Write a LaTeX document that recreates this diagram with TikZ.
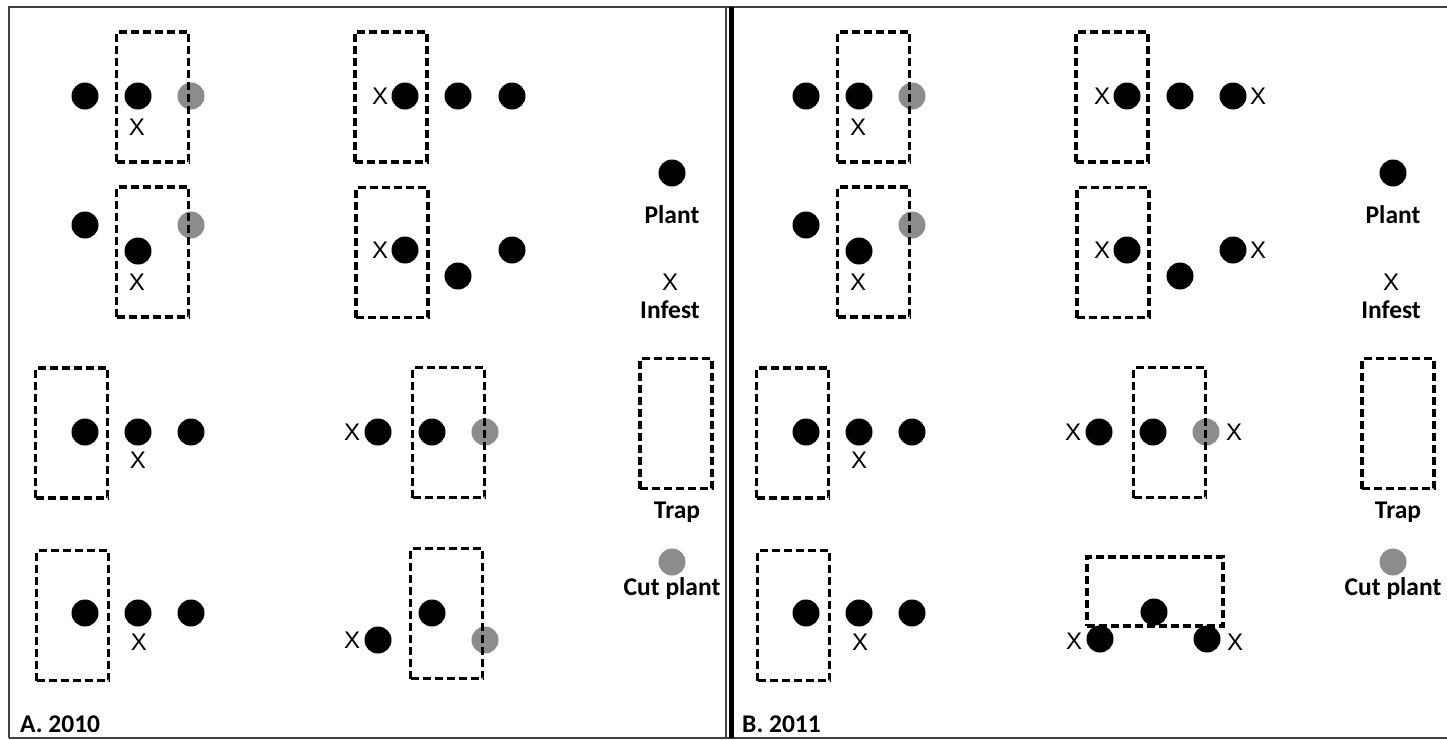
\documentclass[tikz,border=0pt]{standalone}
\usepackage{fontspec}
\setmainfont{Carlito}
\newfontfamily\xfont{Liberation Sans}
\definecolor{cutgray}{RGB}{140,140,140}
\definecolor{framegray}{RGB}{64,64,64}
\begin{document}
\begin{tikzpicture}[x=1pt,y=-1pt,
  plant/.style={circle,fill=black,minimum size=27pt,inner sep=0pt},
  cutplant/.style={circle,fill=cutgray,minimum size=27pt,inner sep=0pt},
  trapbox/.style={draw=black,line width=3.3pt,dash pattern=on 8pt off 4pt,
    minimum width=72pt,minimum height=130pt,inner sep=0pt},
  trapwide/.style={trapbox,minimum width=136pt,minimum height=69pt},
  infest/.style={inner sep=0pt,font=\xfont\fontsize{24}{26}\selectfont},
  lab/.style={inner sep=0pt,anchor=base,font=\fontsize{25.5}{26}\selectfont\bfseries},
  panel/.style={inner sep=0pt,anchor=base west,font=\fontsize{25.5}{26}\selectfont\bfseries}]
\useasboundingbox (0,0) rectangle (1447,739);

% frame
\draw[framegray,line width=2pt] (9,737.5) -- (9,6.5) -- (1447,6.5);
\draw[framegray,line width=2pt] (9,737.5) -- (1447,737.5);
\draw[framegray,line width=1.5pt] (726,6.5) -- (726,737.5);
\draw[black,line width=5pt] (731.5,6.5) -- (731.5,737.5);

% ===== A. 2010 =====
% block 1
\node[plant] (a11) at (85,96) {};
\node[plant] (a12) at (138,96) {};
\node[cutplant] (a13) at (191,96) {};
\node[infest] (ax1) at (137,127) {X};
% block 2
\node[plant] (a21) at (85,225) {};
\node[cutplant] (a22) at (191,225) {};
\node[plant] (a23) at (138,251) {};
\node[infest] (ax2) at (137,282) {X};
% block 3
\node[infest] (ax3) at (380,96) {X};
\node[plant] (a31) at (405,96) {};
\node[plant] (a32) at (458,96) {};
\node[plant] (a33) at (512,96) {};
% block 4
\node[infest] (ax4) at (380,250) {X};
\node[plant] (a41) at (405,250) {};
\node[plant] (a42) at (458,276) {};
\node[plant] (a43) at (512,250) {};
% block 5
\node[plant] (a51) at (85,432) {};
\node[plant] (a52) at (138,432) {};
\node[plant] (a53) at (191,432) {};
\node[infest] (ax5) at (138,460) {X};
% block 6
\node[plant] (a61) at (85,613) {};
\node[plant] (a62) at (138,613) {};
\node[plant] (a63) at (191,613) {};
\node[infest] (ax6) at (139,642) {X};
% block 7
\node[infest] (ax7) at (352,432) {X};
\node[plant] (a71) at (378,432) {};
\node[plant] (a72) at (432,432) {};
\node[cutplant] (a73) at (485,432) {};
% block 8
\node[plant] (a81) at (432,613) {};
\node[infest] (ax8) at (352,640) {X};
\node[plant] (a82) at (378,640) {};
\node[cutplant] (a83) at (485,640) {};
% traps
\node[trapbox] (at1) at (152.5,97) {};
\node[trapbox] (at2) at (152.5,252) {};
\node[trapbox] (at3) at (391,97) {};
\node[trapbox] (at4) at (392,252.5) {};
\node[trapbox] (at5) at (71.5,433) {};
\node[trapbox] (at6) at (72.5,615.5) {};
\node[trapbox] (at7) at (448.5,432.5) {};
\node[trapbox] (at8) at (446.5,613.5) {};
% legend
\node[plant] (alp) at (672,173) {};
\node[lab] (alpt) at (672,223) {Plant};
\node[infest] (alx) at (670,282.5) {X};
\node[lab] (alxt) at (670,318) {Infest};
\node[trapbox] (alt) at (676,423.5) {};
\node[lab] (altt) at (677,518) {Trap};
\node[cutplant] (alc) at (672,562) {};
\node[lab] (alct) at (672,595) {Cut plant};
\node[panel] (atitle) at (20,732) {A. 2010};

% ===== B. 2011 =====
% block 1
\node[plant] (b11) at (806,96) {};
\node[plant] (b12) at (859,96) {};
\node[cutplant] (b13) at (912,96) {};
\node[infest] (bx1) at (858,127) {X};
% block 2
\node[plant] (b21) at (806,225) {};
\node[cutplant] (b22) at (912,225) {};
\node[plant] (b23) at (859,251) {};
\node[infest] (bx2) at (858,282) {X};
% block 3
\node[infest] (bx3) at (1102,96) {X};
\node[plant] (b31) at (1127,96) {};
\node[plant] (b32) at (1180,96) {};
\node[plant] (b33) at (1233,96) {};
\node[infest] (bx3b) at (1258,96) {X};
% block 4
\node[infest] (bx4) at (1102,250) {X};
\node[plant] (b41) at (1127,250) {};
\node[plant] (b42) at (1180,276) {};
\node[plant] (b43) at (1233,250) {};
\node[infest] (bx4b) at (1258,250) {X};
% block 5
\node[plant] (b51) at (806,432) {};
\node[plant] (b52) at (859,432) {};
\node[plant] (b53) at (912,432) {};
\node[infest] (bx5) at (859,460) {X};
% block 6
\node[plant] (b61) at (806,613) {};
\node[plant] (b62) at (859,613) {};
\node[plant] (b63) at (912,613) {};
\node[infest] (bx6) at (860,642) {X};
% block 7
\node[infest] (bx7) at (1073,432) {X};
\node[plant] (b71) at (1099,432) {};
\node[plant] (b72) at (1153,432) {};
\node[cutplant] (b73) at (1206,432) {};
\node[infest] (bx7b) at (1234,432) {X};
% block 8
\node[plant] (b81) at (1154,612) {};
\node[plant] (b82) at (1100,639) {};
\node[plant] (b83) at (1207,639) {};
\node[infest] (bx8) at (1074,641) {X};
\node[infest] (bx8b) at (1235,642) {X};
% traps
\node[trapbox] (bt1) at (873.5,97) {};
\node[trapbox] (bt2) at (873.5,252) {};
\node[trapbox] (bt3) at (1112,97) {};
\node[trapbox] (bt4) at (1113,252.5) {};
\node[trapbox] (bt5) at (792.5,433) {};
\node[trapbox] (bt6) at (793.5,615.5) {};
\node[trapbox] (bt7) at (1169.5,432.5) {};
\node[trapwide] (bt8) at (1155,591.5) {};
% legend
\node[plant] (blp) at (1393,173) {};
\node[lab] (blpt) at (1393,223) {Plant};
\node[infest] (blx) at (1391,282.5) {X};
\node[lab] (blxt) at (1391,318) {Infest};
\node[trapbox] (blt) at (1398,423.5) {};
\node[lab] (bltt) at (1398,518) {Trap};
\node[cutplant] (blc) at (1393,562) {};
\node[lab] (blct) at (1393,595) {Cut plant};
\node[panel] (btitle) at (742,732) {B. 2011};
\end{tikzpicture}
\end{document}
